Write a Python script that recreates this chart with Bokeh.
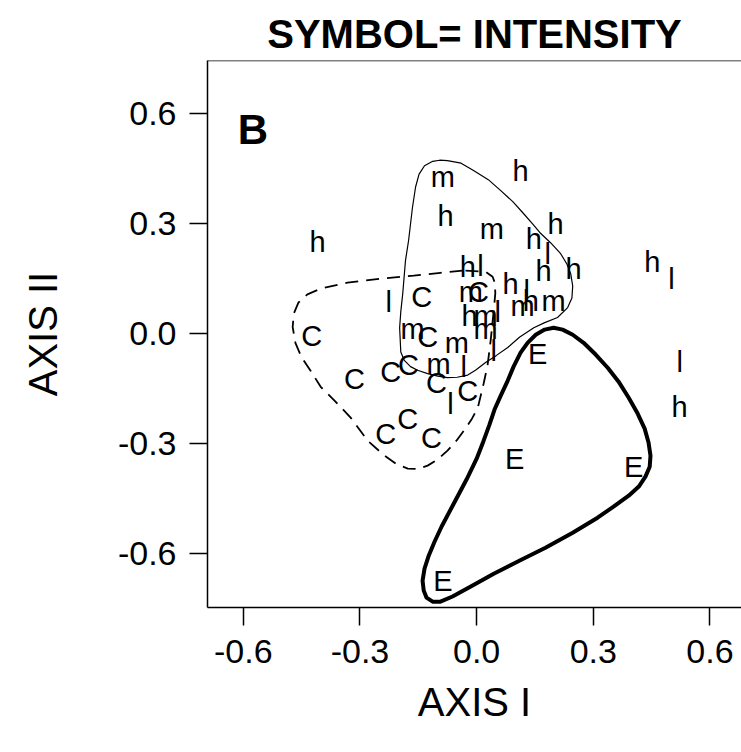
from bokeh.plotting import figure
from bokeh.models import FixedTicker, Range1d, Span
from bokeh.core.properties import value
from bokeh.embed import file_html
from bokeh.resources import INLINE

# ---- data ----
title_text = "SYMBOL= INTENSITY"
x_ticks = [-0.6, -0.3, 0.0, 0.3, 0.6]
x_tick_labels = ["-0.6", "-0.3", "0.0", "0.3", "0.6"]
y_ticks = [-0.6, -0.3, 0.0, 0.3, 0.6]
y_tick_labels = ["-0.6", "-0.3", "0.0", "0.3", "0.6"]

h_x = [-0.409, -0.080, 0.113, 0.203, 0.147, -0.023, 0.172, 0.249, 0.087, 0.139, -0.018, 0.452, 0.522]
h_y = [0.232, 0.303, 0.425, 0.281, 0.240, 0.164, 0.153, 0.158, 0.117, 0.071, 0.030, 0.177, -0.218]

m_x = [-0.087, 0.039, -0.015, 0.118, 0.198, 0.023, 0.023, -0.051, -0.165, -0.098]
m_y = [0.409, 0.267, 0.095, 0.055, 0.071, 0.030, -0.006, -0.046, -0.006, -0.101]

l_x = [0.183, 0.010, 0.129, 0.054, 0.044, -0.033, -0.067, -0.226, 0.501, 0.522]
l_y = [0.199, 0.166, 0.098, 0.041, -0.066, -0.109, -0.210, 0.068, 0.131, -0.096]

c_x = [0.005, -0.141, -0.424, -0.126, -0.314, -0.221, -0.175, -0.103, -0.023, -0.234, -0.177, -0.116]
c_y = [0.095, 0.082, -0.025, -0.027, -0.142, -0.123, -0.106, -0.153, -0.175, -0.292, -0.251, -0.305]

e_x = [0.157, 0.098, 0.404, -0.087]
e_y = [-0.074, -0.360, -0.382, -0.695]

# contour of the m/h group (thin solid)
thin_x = [-0.075, -0.040, -0.008, 0.030, 0.062, 0.093, 0.121, 0.145, 0.165, 0.190, 0.216, 0.232,
          0.242, 0.247, 0.245, 0.234, 0.208, 0.175, 0.147, 0.110, 0.080, 0.050, 0.023, -0.003,
          -0.023, -0.050, -0.075, -0.100, -0.126, -0.152, -0.170, -0.186, -0.195, -0.198, -0.195,
          -0.190, -0.183, -0.175, -0.165, -0.157, -0.148, -0.134, -0.113, -0.095, -0.075]
thin_y = [0.472, 0.465, 0.445, 0.420, 0.390, 0.360, 0.327, 0.298, 0.273, 0.248, 0.218, 0.190,
          0.163, 0.130, 0.097, 0.071, 0.044, 0.030, 0.016, -0.010, -0.038, -0.060, -0.079, -0.100,
          -0.113, -0.119, -0.120, -0.116, -0.109, -0.100, -0.090, -0.073, -0.050, 0.016, 0.060,
          0.109, 0.199, 0.254, 0.344, 0.400, 0.435, 0.458, 0.470, 0.473, 0.472]

# contour of the C group (dashed)
dash_x = [-0.036, -0.093, -0.162, -0.247, -0.332, -0.401, -0.435, -0.458, -0.470, -0.473, -0.466,
          -0.450, -0.427, -0.401, -0.368, -0.324, -0.280, -0.240, -0.206, -0.177, -0.150, -0.126,
          -0.100, -0.075, -0.052, -0.033, -0.012, 0.003, 0.018, 0.028, 0.036, 0.044, 0.048,
          0.047, 0.041, 0.023, -0.036]
dash_y = [0.172, 0.166, 0.158, 0.150, 0.139, 0.123, 0.107, 0.085, 0.055, 0.018, -0.025,
          -0.065, -0.101, -0.145, -0.180, -0.229, -0.292, -0.330, -0.356, -0.368, -0.369, -0.360,
          -0.343, -0.319, -0.292, -0.265, -0.232, -0.202, -0.136, -0.087, -0.019, 0.063, 0.110,
          0.138, 0.155, 0.169, 0.172]

# contour of the E group (thick solid)
thick_x = [0.062, 0.080, 0.095, 0.113, 0.131, 0.152, 0.175, 0.198, 0.221, 0.247, 0.275, 0.306,
           0.337, 0.365, 0.391, 0.414, 0.432, 0.442, 0.447, 0.445, 0.434, 0.417, 0.391, 0.352,
           0.311, 0.247, 0.177, 0.111, 0.044, -0.015, -0.062, -0.093, -0.113, -0.129, -0.136,
           -0.139, -0.134, -0.123, -0.108, -0.090, -0.059, -0.026, 0.000, 0.018, 0.033, 0.046,
           0.062]
thick_y = [-0.169, -0.128, -0.090, -0.052, -0.025, -0.003, 0.011, 0.016, 0.011, -0.003, -0.025,
           -0.057, -0.093, -0.131, -0.175, -0.218, -0.259, -0.297, -0.333, -0.363, -0.390,
           -0.417, -0.442, -0.472, -0.502, -0.543, -0.584, -0.619, -0.655, -0.690, -0.717,
           -0.731, -0.731, -0.720, -0.701, -0.674, -0.641, -0.605, -0.567, -0.526, -0.464,
           -0.398, -0.341, -0.292, -0.248, -0.207, -0.169]

x_lo, x_hi = -0.692, 0.681
y_lo, y_hi = -0.747, 0.745

FONT = "Liberation Sans"

p = figure(width=741, height=752, output_backend="svg", toolbar_location=None,
           x_range=Range1d(x_lo, x_hi), y_range=Range1d(y_lo, y_hi),
           min_border_left=207, min_border_right=0, min_border_top=60,
           min_border_bottom=145)

p.title.text = title_text
p.title.text_font = FONT
p.title.text_font_size = "40px"
p.title.text_font_style = "bold"
p.title.align = "center"
p.title.text_color = "black"
p.title.standoff = 10

p.grid.visible = False
p.outline_line_color = None
p.background_fill_color = "white"
p.border_fill_color = "white"

for ax, ticks, labels in ((p.xaxis[0], x_ticks, x_tick_labels), (p.yaxis[0], y_ticks, y_tick_labels)):
    ax.ticker = FixedTicker(ticks=ticks)
    ax.major_label_overrides = {t: l for t, l in zip(ticks, labels)}
    ax.minor_tick_line_color = None
    ax.major_tick_in = 0
    ax.major_tick_out = 18
    ax.major_tick_line_width = 1.5
    ax.axis_line_width = 1.5
    ax.axis_line_color = "black"
    ax.major_tick_line_color = "black"
    ax.major_label_text_font = FONT
    ax.major_label_text_font_size = "34px"
    ax.major_label_text_color = "black"
    ax.axis_label_text_font = FONT
    ax.axis_label_text_font_size = "40px"
    ax.axis_label_text_font_style = "normal"
    ax.axis_label_text_color = "black"

p.xaxis.axis_label = "AXIS I"
p.yaxis.axis_label = "AXIS II"
p.xaxis.major_label_standoff = 14
p.yaxis.major_label_standoff = 13
p.xaxis.axis_label_standoff = 14
p.yaxis.axis_label_standoff = 50
p.yaxis.major_label_orientation = "horizontal"

# top edge of the box
p.add_layout(Span(location=y_hi, dimension="width", line_color="black", line_width=1.5))

# contours
p.line(thin_x, thin_y, line_color="black", line_width=1.2)
p.line(dash_x, dash_y, line_color="black", line_width=1.8, line_dash="13 8")
p.line(thick_x, thick_y, line_color="black", line_width=4, line_join="round")

# symbols
for xs, ys, sym in ((h_x, h_y, "h"), (m_x, m_y, "m"), (l_x, l_y, "l"), (c_x, c_y, "C"), (e_x, e_y, "E")):
    p.text(x=xs, y=ys, text=[sym] * len(xs), text_font=value(FONT), text_font_size="29px",
           text_align="center", text_baseline="alphabetic", text_color="black", y_offset=-7)

# panel letter
p.text(x=[-0.614], y=[0.507], text=["B"], text_font=value(FONT), text_font_size="42px",
       text_font_style="bold", text_align="left", text_baseline="alphabetic", text_color="black",
       y_offset=-18)

open("out.html", "w").write(file_html(p, INLINE))
